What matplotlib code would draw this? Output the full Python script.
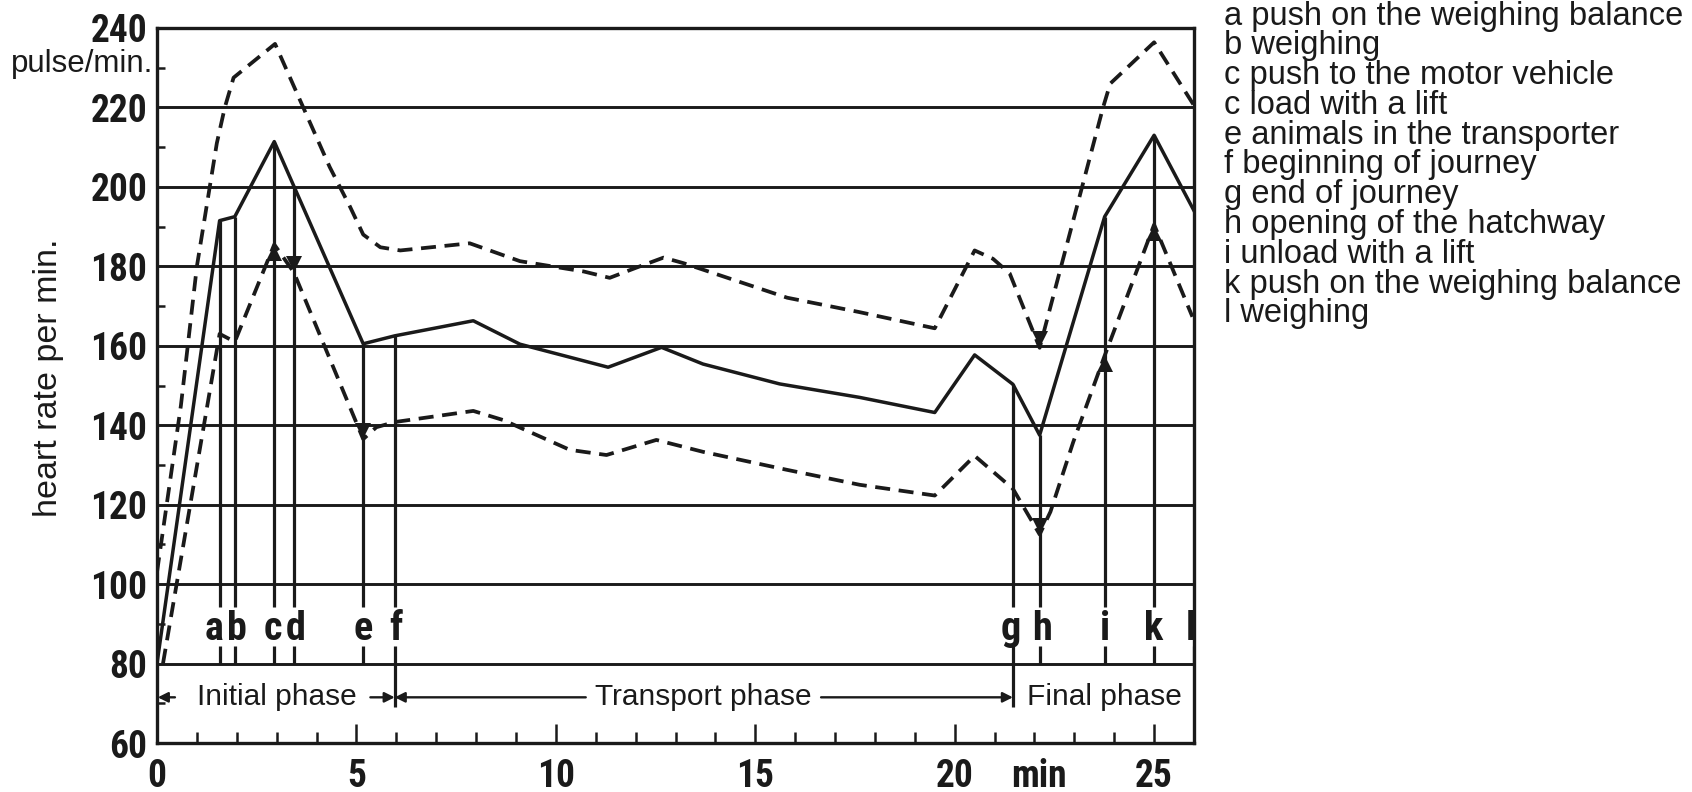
import numpy as np
import matplotlib
matplotlib.use("Agg")
import matplotlib.pyplot as plt
import matplotlib.font_manager as fm

# ---- data (minutes, pulse/min) ----
upper_t = [0.0, 0.6, 1.0, 1.5, 1.7, 1.92, 2.96, 4.33, 4.84, 5.17, 5.6, 6.1, 7.84,
           9.1, 10.7, 11.35, 12.0, 12.7, 13.2, 15.8, 17.6, 19.5, 20.5, 20.96,
           21.38, 22.13, 23.72, 23.9, 25.0, 26.0]
upper_v = [103, 145, 180, 211, 220, 227.5, 236, 205, 195, 188, 184.8, 184, 185.8,
           181.3, 178.7, 177.1, 179.6, 182.2, 180.8, 172.1, 168.5, 164.4, 184, 181.9,
           178.2, 159.5, 220, 226, 236.4, 220.5]

mean_t = [0.0, 1.57, 1.95, 2.94, 5.17, 5.96, 7.93, 9.1, 11.31, 12.65, 13.69, 15.61,
          17.62, 19.5, 20.5, 21.46, 22.13, 23.76, 25.0, 26.0]
mean_v = [80, 191.5, 192.5, 211.4, 160.5, 162.5, 166.3, 160.4, 154.6, 159.6, 155.4,
          150.4, 147, 143.2, 157.7, 150.3, 137.5, 192.5, 213, 194]

lower_t = [0.15, 1.57, 1.95, 2.94, 3.43, 5.17, 5.5, 5.96, 7.93, 8.68, 10.35, 11.27,
           12.52, 13.69, 15.78, 17.62, 19.5, 20.5, 21.46, 22.13, 22.4, 22.97, 23.76,
           24.6, 25.0, 25.96]
lower_v = [80, 163, 161, 185.5, 178.5, 136.5, 139.5, 140.8, 143.6, 141.3, 133.8, 132.5,
           136.3, 133.3, 128.8, 125, 122.3, 132.3, 124, 112.5, 118.2, 135.7, 157.5,
           179.8, 190.5, 167.3]

# events a..l
ev_letters = ['a', 'b', 'c', 'd', 'e', 'f', 'g', 'h', 'i', 'k', 'l']
ev_t = [1.57, 1.95, 2.94, 3.43, 5.17, 5.96, 21.46, 22.13, 23.76, 25.0, 26.0]
lbl_t = [1.43, 2.0, 2.9, 3.48, 5.17, 5.98, 21.4, 22.18, 23.76, 25.0, 25.93]
through_events = ['f', 'g']

# arrowheads on the event lines: (event, series, direction)
arrow_marks = [('c', 'lower', 'up'), ('d', 'lower', 'down'), ('e', 'lower', 'down'),
               ('h', 'upper', 'down'), ('h', 'lower', 'down'), ('i', 'lower', 'up'),
               ('k', 'lower', 'up')]

legend_lines = [
    'a push on the weighing balance', 'b weighing', 'c push to the motor vehicle',
    'c load with a lift', 'e animals in the transporter', 'f beginning of journey',
    'g end of journey', 'h opening of the hatchway', 'i unload with a lift',
    'k push on the weighing balance', 'l weighing',
]

phases = ['Initial phase', 'Transport phase', 'Final phase']
phase_t = [3.0, 13.7, 23.75]

y_ticks = list(range(60, 241, 20))
x_ticks = [0, 5, 10, 15, 20, 22.1, 25]
x_ticklabels = ['0', '5', '10', '15', '20', 'min', '25']


# ---- fonts: a narrow bold face for the numbers if one is installed ----
def narrow_font():
    names = {f.name for f in fm.fontManager.ttflist}
    for p in ['Liberation Sans Narrow', 'Roboto Condensed', 'Open Sans Condensed',
              'Noto Sans Condensed', 'DejaVu Sans Condensed', 'Arial Narrow']:
        if p in names:
            return dict(family=p), True
    for f in fm.fontManager.ttflist:
        if (str(f.stretch) in ('condensed', 'semi-condensed', 'extra-condensed')
                and not any(k in f.name for k in ('Mono', 'Serif', 'CJK'))):
            return dict(family=f.name, stretch=f.stretch), True
    return dict(family='DejaVu Sans'), False


nf, is_narrow = narrow_font()
num_fp = fm.FontProperties(weight='bold', size=27 if is_narrow else 25, **nf)
let_fp = fm.FontProperties(weight='bold', size=29 if is_narrow else 26, **nf)
txt = 'Liberation Sans'
ink = '#1a1a1a'

fig = plt.figure(figsize=(16.92, 7.92), dpi=100)
ax = fig.add_axes([157 / 1692, 1 - 743 / 792, (1194 - 157) / 1692, (743 - 28) / 792])
ax.set_xlim(0, 26)
ax.set_ylim(60, 240)

for s in ax.spines.values():
    s.set_linewidth(2.4)
    s.set_color(ink)

# horizontal grid
for v in y_ticks[1:-1]:
    ax.axhline(v, color=ink, lw=2.1, zorder=1)

# ticks
ax.set_yticks(y_ticks)
ax.set_yticklabels([str(v) for v in y_ticks])
ax.set_yticks(np.arange(70, 240, 20), minor=True)
ax.tick_params(axis='y', which='major', length=0, pad=7)
ax.tick_params(axis='y', which='minor', direction='in', length=6, width=1.8, color=ink)
ax.set_xticks(x_ticks)
ax.set_xticklabels(x_ticklabels)
ax.set_xticks(np.arange(0, 27, 1), minor=True)
ax.tick_params(axis='x', which='major', direction='in', length=14, width=1.8, pad=11, color=ink)
ax.tick_params(axis='x', which='minor', direction='in', length=8, width=1.8, color=ink)
ax.xaxis.get_major_ticks()[5].tick1line.set_visible(False)
for lbl in ax.get_xticklabels() + ax.get_yticklabels():
    lbl.set_fontproperties(num_fp)
    lbl.set_color(ink)
# the top label sits a little higher, clear of the unit text below it
ax.get_yticklabels()[-1].set_verticalalignment('center_baseline')

# curves
ax.plot(upper_t, upper_v, color=ink, lw=2.7, dashes=(4, 2.3), zorder=3)
ax.plot(mean_t, mean_v, color=ink, lw=2.5, zorder=3)
ax.plot(lower_t, lower_v, color=ink, lw=2.7, dashes=(4, 2.3), zorder=3)

# event lines
tops = np.interp(ev_t, mean_t, mean_v)
for name, t, top, lt in zip(ev_letters, ev_t, tops, lbl_t):
    if name != 'l':
        ax.vlines(t, 94.3, top, color=ink, lw=2.3, zorder=2)
    low = 69 if name in through_events else 80
    ax.vlines(t, low, 84.5, color=ink, lw=2.3, zorder=2)
    ax.text(lt, 88.8, name, fontproperties=let_fp, ha='center', va='center', color=ink)

# arrowheads
px_per_unit = 715 / 180
ms = 12
off = ms * 100 / 72 / 2 / px_per_unit
series = {'upper': (upper_t, upper_v), 'lower': (lower_t, lower_v)}
for name, ser, d in arrow_marks:
    t = ev_t[ev_letters.index(name)]
    v = np.interp(t, *series[ser])
    if d == 'up':
        ax.plot(t, v - off, marker='^', ms=ms, color=ink, mew=0, zorder=4)
    else:
        ax.plot(t, v + off, marker='v', ms=ms, color=ink, mew=0, zorder=4)

# phase row
for p, t in zip(phases, phase_t):
    ax.text(t, 71.5, p, family=txt, fontsize=21.5, ha='center', va='center', color=ink)
f_t = ev_t[ev_letters.index('f')]
g_t = ev_t[ev_letters.index('g')]
arr = dict(arrowstyle='-|>', color=ink, lw=1.7, mutation_scale=15, shrinkA=0, shrinkB=0)
ax.annotate('', xy=(0.02, 71.5), xytext=(0.45, 71.5), arrowprops=arr)
ax.annotate('', xy=(f_t, 71.5), xytext=(5.35, 71.5), arrowprops=arr)
ax.annotate('', xy=(f_t, 71.5), xytext=(10.75, 71.5), arrowprops=arr)
ax.annotate('', xy=(g_t, 71.5), xytext=(16.65, 71.5), arrowprops=arr)

# axis texts
ax.text(-0.004, 230.9, 'pulse/min.', family=txt, fontsize=22.5, ha='right', va='center',
        transform=ax.get_yaxis_transform(), color=ink)
fig.text(48.5 / 1692, 1 - 378 / 792, 'heart rate per min.', family=txt, fontsize=24.5,
         rotation=90, ha='center', va='center', color=ink)

# legend block
for i, line in enumerate(legend_lines):
    fig.text(1224 / 1692, 1 - (16 + i * 29.8) / 792, line, family=txt, fontsize=23.5,
             ha='left', va='center', color=ink)

plt.savefig('out.png', dpi=100, facecolor='white')
plt.close()
